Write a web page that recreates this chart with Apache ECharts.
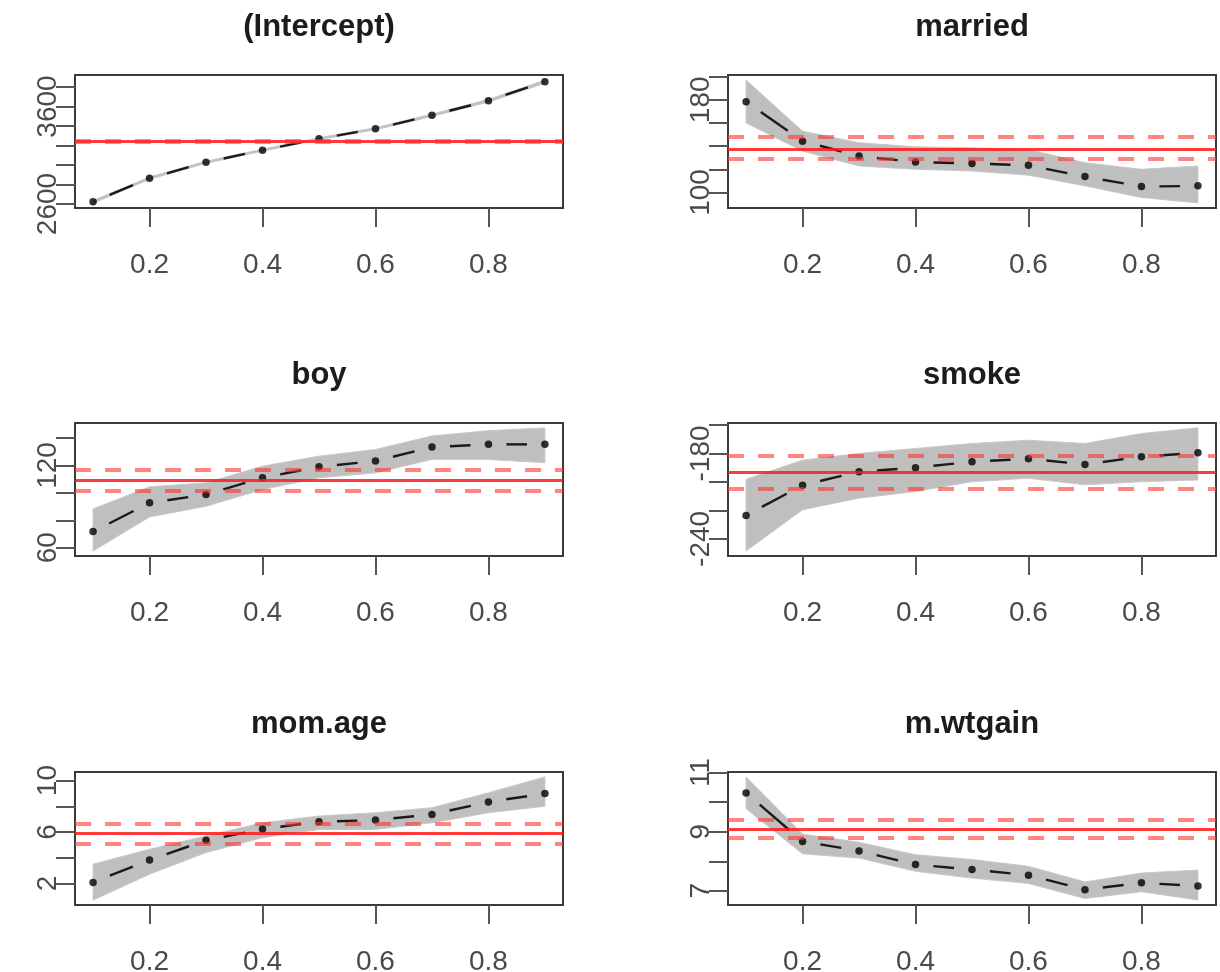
<!DOCTYPE html>
<html><head><meta charset="utf-8">
<script src="https://cdn.jsdelivr.net/npm/echarts@6/dist/echarts.min.js"></script>
<style>html,body{margin:0;padding:0;background:#fff}#c{width:1220px;height:972px}</style>
</head><body><div id="c"></div>
<script>
// ---- data ----
const taus = [0.1, 0.2, 0.3, 0.4, 0.5, 0.6, 0.7, 0.8, 0.9];
const xTicks = [0.2, 0.4, 0.6, 0.8];
const panelTitles = ['(Intercept)', 'married', 'boy', 'smoke', 'mom.age', 'm.wtgain'];

const interceptCoef = [2622, 2865, 3028, 3152, 3269, 3372, 3510, 3659, 3855];
const interceptLo   = [2608, 2853, 3017, 3142, 3259, 3361, 3498, 3645, 3839];
const interceptHi   = [2636, 2877, 3039, 3162, 3279, 3383, 3522, 3673, 3871];
const interceptOls  = [3245, 3237, 3253];
const interceptRange = [2559, 3923];
const interceptTicks = [2600, 2800, 3000, 3200, 3400, 3600, 3800];
const interceptLabels = [2600, 3600];

const marriedCoef = [178.3, 144.3, 131.4, 126.3, 125.1, 123.4, 113.7, 105.1, 105.7];
const marriedLo   = [160, 135.7, 122.9, 120, 118.6, 114.9, 105.7, 95.7, 91];
const marriedHi   = [197, 152.9, 142.9, 139.4, 138.6, 137, 125.7, 120, 122.9];
const marriedOls  = [137.7, 129.1, 148];
const marriedRange = [86.6, 201.4];
const marriedTicks = [100, 120, 140, 160, 180, 200];
const marriedLabels = [100, 180];

const boyCoef = [71.7, 92.7, 98.8, 111, 119, 123.2, 133.4, 135.4, 135.4];
const boyLo   = [57.5, 82.4, 90.2, 102.4, 111, 114.6, 124.4, 124.4, 122];
const boyHi   = [88.3, 104.4, 107.3, 119.5, 126.8, 131.7, 141.5, 145.4, 147.4];
const boyOls  = [109.3, 101.7, 117.1];
const boyRange = [53.9, 151];
const boyTicks = [60, 80, 100, 120, 140];
const boyLabels = [60, 120];

const smokeCoef = [-223.5, -202.3, -192.8, -190, -185.8, -183.7, -187.7, -182.3, -179.5];
const smokeLo   = [-248.5, -219.5, -211.4, -206.7, -199.8, -197.4, -202, -199.8, -198.6];
const smokeHi   = [-198.1, -184.7, -180, -176.5, -173, -170.7, -173, -166, -162];
const smokeOls  = [-193.5, -205.1, -181.9];
const smokeRange = [-252, -158.6];
const smokeTicks = [-240, -220, -200, -180, -160];
const smokeLabels = [-240, -180];

const momAgeCoef = [2.08, 3.83, 5.35, 6.23, 6.8, 6.93, 7.37, 8.34, 8.99];
const momAgeLo   = [0.7, 2.72, 4.4, 5.56, 6.2, 6.2, 6.72, 7.5, 8.0];
const momAgeHi   = [3.5, 4.66, 5.69, 6.72, 7.24, 7.5, 7.89, 9.05, 10.29];
const momAgeOls  = [5.87, 5.1, 6.65];
const momAgeRange = [0.32, 10.67];
const momAgeTicks = [2, 4, 6, 8, 10];
const momAgeLabels = [2, 6, 10];

const wtgainCoef = [10.31, 8.67, 8.35, 7.89, 7.72, 7.53, 7.04, 7.27, 7.16];
const wtgainLo   = [9.78, 8.25, 8.11, 7.66, 7.43, 7.25, 6.74, 6.97, 6.69];
const wtgainHi   = [10.85, 8.92, 8.64, 8.22, 8.06, 7.83, 7.3, 7.6, 7.7];
const wtgainOls  = [9.09, 8.79, 9.39];
const wtgainRange = [6.52, 11.02];
const wtgainTicks = [7, 8, 9, 10, 11];
const wtgainLabels = [7, 9, 11];

// ---- assemble ----
const panels = [
  {coef: interceptCoef, lo: interceptLo, hi: interceptHi, ols: interceptOls, range: interceptRange, ticks: interceptTicks, labels: interceptLabels},
  {coef: marriedCoef, lo: marriedLo, hi: marriedHi, ols: marriedOls, range: marriedRange, ticks: marriedTicks, labels: marriedLabels},
  {coef: boyCoef, lo: boyLo, hi: boyHi, ols: boyOls, range: boyRange, ticks: boyTicks, labels: boyLabels},
  {coef: smokeCoef, lo: smokeLo, hi: smokeHi, ols: smokeOls, range: smokeRange, ticks: smokeTicks, labels: smokeLabels},
  {coef: momAgeCoef, lo: momAgeLo, hi: momAgeHi, ols: momAgeOls, range: momAgeRange, ticks: momAgeTicks, labels: momAgeLabels},
  {coef: wtgainCoef, lo: wtgainLo, hi: wtgainHi, ols: wtgainOls, range: wtgainRange, ticks: wtgainTicks, labels: wtgainLabels}
];

const colLeft = [75, 728];
const rowTop = [75, 423, 772];
const boxW = 488, boxH = 133;
const FONT = 'Liberation Sans, Arial, sans-serif';
const labelColor = '#4a4a4a';

const grids = [], xAxes = [], yAxes = [], titles = [], series = [];

panels.forEach((p, i) => {
  const col = i % 2, row = Math.floor(i / 2);
  const left = colLeft[col], top = rowTop[row];
  grids.push({left: left, top: top, width: boxW, height: boxH, show: true,
    borderColor: '#3a3a3a', borderWidth: 2, backgroundColor: 'transparent',
    containLabel: false, outerBoundsMode: 'none'});
  titles.push({text: panelTitles[i], left: left + boxW / 2, top: top - 63, textAlign: 'center', padding: 0,
    textStyle: {fontSize: 31, fontWeight: 'bold', fontFamily: FONT, color: '#1c1c1c'}});
  xAxes.push({gridIndex: i, type: 'value', min: 0.068, max: 0.932,
    axisLine: {show: false}, splitLine: {show: false},
    axisTick: {show: true, length: 19, customValues: xTicks, lineStyle: {color: '#555', width: 2}},
    axisLabel: {customValues: xTicks, margin: 43, fontSize: 28, fontFamily: FONT, color: labelColor,
      formatter: v => v.toFixed(1)}});
  yAxes.push({gridIndex: i, type: 'value', min: p.range[0], max: p.range[1],
    axisLine: {show: false}, splitLine: {show: false},
    axisTick: {show: true, length: 19, customValues: p.ticks, lineStyle: {color: '#555', width: 2}},
    axisLabel: {customValues: p.labels, rotate: 90, margin: 13, fontSize: 28, fontFamily: FONT, color: labelColor,
      formatter: v => String(v)}});

  // confidence band polygon
  series.push({type: 'custom', xAxisIndex: i, yAxisIndex: i, silent: true, z: 1,
    data: taus.map((t, j) => [t, p.lo[j], p.hi[j]]),
    encode: {x: 0, y: [1, 2]},
    renderItem: function (params, api) {
      if (params.dataIndex !== 0) return null;
      const n = params.dataInsideLength;
      const upper = [], lower = [];
      for (let k = 0; k < n; k++) {
        const x = api.value(0, k);
        lower.push(api.coord([x, api.value(1, k)]));
        upper.push(api.coord([x, api.value(2, k)]));
      }
      return {type: 'polygon', shape: {points: lower.concat(upper.reverse())},
        style: {fill: '#bfbfbf', stroke: '#c8c8c8', lineWidth: 1}};
    }});

  // dashed connecting segments (R type="b": gaps around points)
  series.push({type: 'custom', xAxisIndex: i, yAxisIndex: i, silent: true, z: 3,
    data: taus.slice(0, -1).map((t, j) => [t, p.coef[j], taus[j + 1], p.coef[j + 1]]),
    encode: {x: [0, 2], y: [1, 3]},
    renderItem: function (params, api) {
      const a = api.coord([api.value(0), api.value(1)]);
      const b = api.coord([api.value(2), api.value(3)]);
      const dx = b[0] - a[0], dy = b[1] - a[1];
      const L = Math.sqrt(dx * dx + dy * dy);
      const d = Math.max(6, L - 36);
      const mx = (a[0] + b[0]) / 2, my = (a[1] + b[1]) / 2;
      const ux = dx / L, uy = dy / L;
      return {type: 'line', shape: {x1: mx - ux * d / 2, y1: my - uy * d / 2, x2: mx + ux * d / 2, y2: my + uy * d / 2},
        style: {stroke: '#1a1a1a', lineWidth: 2.4}};
    }});

  // points
  series.push({type: 'scatter', xAxisIndex: i, yAxisIndex: i, silent: true, z: 4,
    data: taus.map((t, j) => [t, p.coef[j]]), symbol: 'circle', symbolSize: 7.5,
    itemStyle: {color: '#000'}});

  // OLS lines
  series.push({type: 'line', xAxisIndex: i, yAxisIndex: i, silent: true, z: 5,
    data: [[taus[0], p.ols[0]]], symbol: 'none', lineStyle: {opacity: 0},
    markLine: {symbol: 'none', silent: true, label: {show: false}, animation: false,
      data: [
        {yAxis: p.ols[0], lineStyle: {type: 'solid', color: 'rgba(255,25,25,0.85)', width: 3}},
        {yAxis: p.ols[1], lineStyle: {type: [16, 14], color: 'rgba(255,50,50,0.6)', width: 4}},
        {yAxis: p.ols[2], lineStyle: {type: [16, 14], color: 'rgba(255,50,50,0.6)', width: 4}}
      ]}});
});

const chart = echarts.init(document.getElementById('c'), null, {renderer: 'canvas'});
chart.setOption({
  animation: false,
  backgroundColor: '#ffffff',
  title: titles,
  grid: grids,
  xAxis: xAxes,
  yAxis: yAxes,
  series: series
});
</script>
</body></html>
